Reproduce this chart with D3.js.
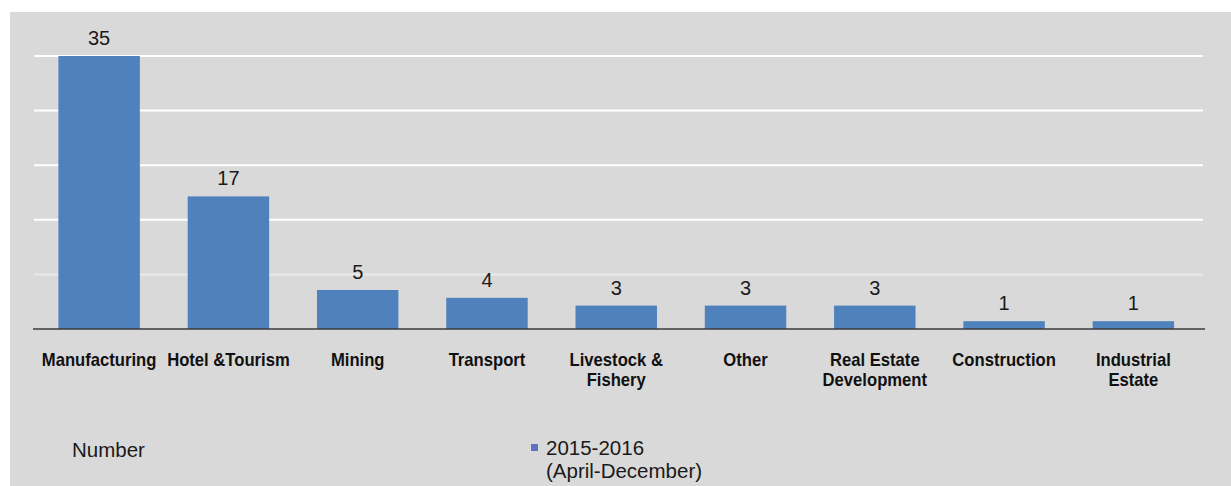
<!DOCTYPE html>
<html>
<head>
<meta charset="utf-8">
<script src="https://cdn.jsdelivr.net/npm/d3@7"></script>
<style>
  html, body { margin: 0; padding: 0; background: #ffffff; }
  svg { display: block; }
</style>
</head>
<body>
<svg id="chart" width="1231" height="486"></svg>
<script>
const categories = [
  ["Manufacturing"],
  ["Hotel &Tourism"],
  ["Mining"],
  ["Transport"],
  ["Livestock &", "Fishery"],
  ["Other"],
  ["Real Estate", "Development"],
  ["Construction"],
  ["Industrial", "Estate"]
];
const values = [35, 17, 5, 4, 3, 3, 3, 1, 1];
const yTicks = [0, 7, 14, 21, 28, 35];
const seriesName = ["2015-2016", "(April-December)"];
const axisTitle = "Number";

const svg = d3.select("#chart");
const W = 1231, H = 486;

// background panel
svg.append("rect").attr("x", 10).attr("y", 12).attr("width", W - 10).attr("height", H - 12)
  .attr("fill", "#d9d9d9");

const keys = categories.map(c => c.join(" "));
const x = d3.scaleBand().domain(keys).range([34.5, 1198]).paddingInner(0.37).paddingOuter(0.185);
const y = d3.scaleLinear().domain([0, 35]).range([329, 56]);

// gridlines
svg.append("g").selectAll("line").data(yTicks.filter(t => t > 0)).join("line")
  .attr("x1", 34).attr("x2", 1203)
  .attr("y1", d => y(d)).attr("y2", d => y(d))
  .attr("stroke", "#ffffff").attr("stroke-width", 2)
  .attr("opacity", d => d === 7 ? 0.45 : 1);

// bars
svg.append("g").selectAll("rect").data(values).join("rect")
  .attr("x", (d, i) => x(keys[i]))
  .attr("width", x.bandwidth())
  .attr("y", d => y(d))
  .attr("height", d => y(0) - y(d))
  .attr("fill", "#4f81bd");

// baseline
svg.append("line").attr("x1", 33).attr("x2", 1205).attr("y1", y(0)).attr("y2", y(0))
  .attr("stroke", "#3a3a3a").attr("stroke-width", 1.5);

// value labels
svg.append("g").selectAll("text").data(values).join("text")
  .attr("x", (d, i) => x(keys[i]) + x.bandwidth() / 2)
  .attr("y", d => y(d) - 11)
  .attr("text-anchor", "middle")
  .attr("font-family", "Liberation Sans, Arial, sans-serif")
  .attr("font-size", 20)
  .attr("fill", "#1a1a1a")
  .text(d => d);

// category labels (condensed bold, as in the reference)
const cl = svg.append("g").selectAll("text").data(categories).join("text")
  .attr("transform", (d, i) => `translate(${x(keys[i]) + x.bandwidth() / 2},366) scale(0.9,1)`)
  .attr("x", 0)
  .attr("y", 0)
  .attr("text-anchor", "middle")
  .attr("font-family", "Liberation Sans, Arial, sans-serif")
  .attr("font-weight", "bold")
  .attr("font-size", 18.5)
  .attr("fill", "#111");
cl.each(function(d) {
  const t = d3.select(this);
  d.forEach((line, j) => {
    t.append("tspan").attr("x", 0).attr("dy", j === 0 ? 0 : 20).text(line);
  });
});

// axis title
svg.append("text").attr("x", 72).attr("y", 457)
  .attr("font-family", "Liberation Sans, Arial, sans-serif")
  .attr("font-size", 20.5).attr("fill", "#1a1a1a")
  .text(axisTitle);

// legend
svg.append("rect").attr("x", 531).attr("y", 444).attr("width", 7).attr("height", 7)
  .attr("fill", "#5e72c0");
const lg = svg.append("text").attr("x", 546).attr("y", 455)
  .attr("font-family", "Liberation Sans, Arial, sans-serif")
  .attr("font-size", 20.5).attr("fill", "#1a1a1a");
seriesName.forEach((s, j) => {
  lg.append("tspan").attr("x", 546).attr("dy", j === 0 ? 0 : 23).text(s);
});
</script>
</body>
</html>
